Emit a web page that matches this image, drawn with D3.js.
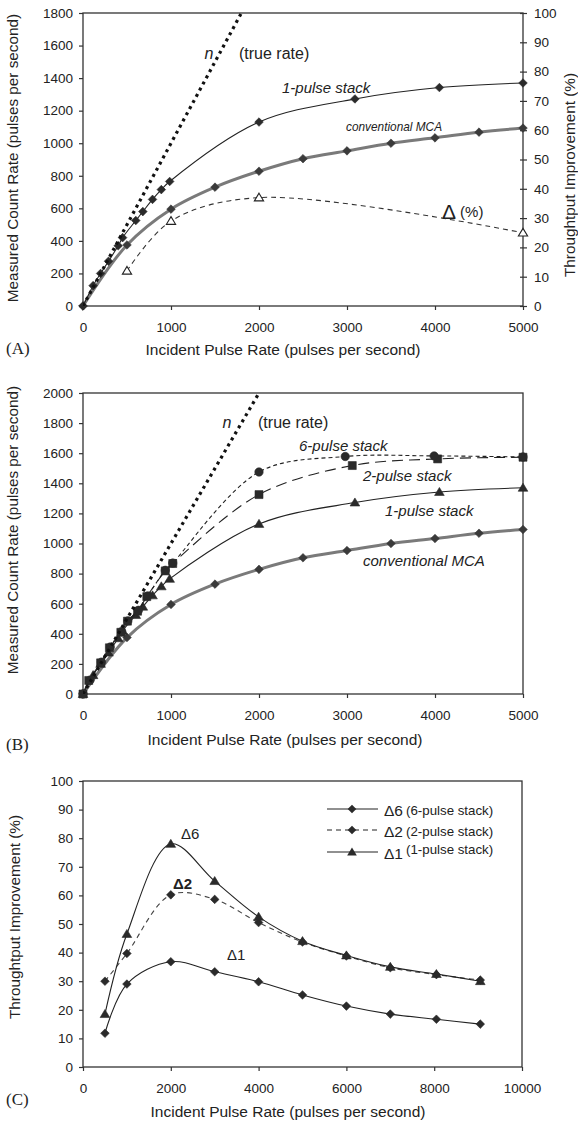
<!DOCTYPE html>
<html>
<head>
<meta charset="utf-8">
<script src="https://cdn.jsdelivr.net/npm/d3@7"></script>
<style>
  body { margin: 0; background: #fff; }
  svg text { fill: #222; }
</style>
</head>
<body>
<svg id="fig" width="578" height="1123"></svg>
<script>
// ---- data ----
// panel A & B share the x range 0..5000 pulses/s
const xTicksAB = [0, 1000, 2000, 3000, 4000, 5000];
const yTicksA = [0, 200, 400, 600, 800, 1000, 1200, 1400, 1600, 1800];
const yTicksAright = [0, 10, 20, 30, 40, 50, 60, 70, 80, 90, 100];
const yTicksB = [0, 200, 400, 600, 800, 1000, 1200, 1400, 1600, 1800, 2000];
const xTicksC = [0, 2000, 4000, 6000, 8000, 10000];
const yTicksC = [0, 10, 20, 30, 40, 50, 60, 70, 80, 90, 100];

const trueRateA = [[0, 0], [1800, 1800]];
const trueRateB = [[0, 0], [2000, 2000]];

const conventional = [
  [0, 0], [500, 375], [1000, 595], [1500, 730], [2000, 828], [2500, 905],
  [3000, 953], [3500, 1000], [4000, 1033], [4500, 1068], [5000, 1093]
];
const onePulse = [
  [0, 0], [115, 125], [200, 200], [290, 275], [400, 370], [450, 420],
  [600, 525], [680, 580], [790, 655], [890, 715], [985, 765],
  [2000, 1130], [3090, 1272], [4050, 1342], [5000, 1370]
];
const twoPulse = [
  [0, 0], [65, 90], [200, 207], [300, 307], [430, 410], [505, 484],
  [620, 550], [725, 647], [935, 818], [1020, 867],
  [2000, 1325], [3060, 1518], [4030, 1562], [5000, 1573]
];
const sixPulse = [
  [0, 0], [80, 92], [210, 212], [310, 312], [440, 415], [510, 486],
  [630, 556], [735, 652], [935, 822], [1020, 870],
  [2000, 1475], [2980, 1578], [3990, 1582], [5000, 1575]
];
// throughput improvement of 1-pulse stack, shown in panel A (right axis)
const deltaA = [[500, 12], [1000, 29], [2000, 37], [5000, 25]];

// panel C
const delta6 = [
  [500, 18.5], [1000, 46.5], [2000, 78], [3000, 65], [4000, 52.5], [5000, 44],
  [6000, 39], [7000, 35], [8050, 32.5], [9050, 30]
];
const delta2 = [
  [500, 30], [1000, 39.7], [2000, 60.2], [3000, 58.6], [4000, 50.5], [5000, 43.7],
  [6000, 38.8], [7000, 34.7], [8050, 32.3], [9050, 30.4]
];
const delta1 = [
  [500, 11.8], [1000, 29], [2000, 36.8], [3000, 33.3], [4000, 29.8], [5000, 25.2],
  [6000, 21.3], [7000, 18.5], [8050, 16.7], [9050, 15]
];

// ---- layout ----
const FONT = "'Liberation Sans', Arial, Helvetica, sans-serif";
const SERIF = "'Liberation Serif', 'Times New Roman', serif";
const X0 = 83, X1 = 523;
const INK = "#333";
const svg = d3.select("#fig");

function shape(kind, r) {
  if (kind === "diamond") return `M0,${-r}L${r},0L0,${r}L${-r},0Z`;
  if (kind === "triangle") return `M0,${-r}L${r * 1.05},${r * 0.75}L${-r * 1.05},${r * 0.75}Z`;
  if (kind === "square") return `M${-r},${-r}H${r}V${r}H${-r}Z`;
  return d3.arc()({innerRadius: 0, outerRadius: r, startAngle: 0, endAngle: 2 * Math.PI});
}

function frame(x, y, xTicks, yTicks, top, bottom, id) {
  const g = svg.append("g");
  g.append("clipPath").attr("id", id).append("rect")
    .attr("x", X0).attr("y", top).attr("width", x.range()[1] - X0).attr("height", bottom - top);

  const style = (a) => {
    a.attr("font-family", FONT).attr("font-size", 13.5);
    a.select(".domain").remove();
    a.selectAll("line").attr("stroke", INK).attr("stroke-width", 1.2);
    a.selectAll("text").attr("fill", "#222");
  };
  g.append("g").attr("transform", `translate(0,${bottom})`)
    .call(d3.axisBottom(x).tickValues(xTicks).tickSize(4).tickPadding(12).tickFormat(d3.format("d")))
    .call(style);
  g.append("g").attr("transform", `translate(${X0},0)`)
    .call(d3.axisLeft(y).tickValues(yTicks).tickSize(4).tickPadding(6).tickFormat(d3.format("d")))
    .call(style);
  g.append("rect")
    .attr("x", X0).attr("y", top).attr("width", x.range()[1] - X0).attr("height", bottom - top)
    .attr("fill", "none").attr("stroke", INK).attr("stroke-width", 1.3);
  return g;
}

function series(g, data, x, y, o) {
  const line = d3.line().x(d => x(d[0])).y(d => y(d[1]))
    .curve(o.straight ? d3.curveLinear : d3.curveCatmullRom.alpha(0.5));
  g.append("path").datum(data)
    .attr("clip-path", `url(#${o.clip})`)
    .attr("d", line).attr("fill", "none")
    .attr("stroke", o.stroke || "#111").attr("stroke-width", o.width || 1.1)
    .attr("stroke-dasharray", o.dash || null);
  if (!o.marker) return;
  g.append("g").selectAll("path").data(o.markerData || data).join("path")
    .attr("transform", d => `translate(${x(d[0])},${y(d[1])})`)
    .attr("d", shape(o.marker, o.size || 4.3))
    .attr("fill", o.fill || "#222")
    .attr("stroke", o.markerStroke || o.fill || "#222")
    .attr("stroke-width", o.markerStroke ? 1.1 : 0.6);
}

function label(g, text, px, py, o = {}) {
  const t = g.append("text").attr("x", px).attr("y", py)
    .attr("font-family", o.family || FONT).attr("font-size", o.size || 15)
    .attr("font-style", o.italic ? "italic" : null)
    .attr("font-weight", o.bold ? "bold" : null)
    .attr("text-anchor", o.anchor || "start")
    .attr("dominant-baseline", "central")
    .text(text);
  if (o.len) t.attr("textLength", o.len).attr("lengthAdjust", "spacingAndGlyphs");
  return t;
}

function xtitle(px, py) {
  svg.append("text").attr("x", px).attr("y", py).attr("dominant-baseline", "central")
    .attr("text-anchor", "middle").attr("font-family", FONT).attr("font-size", 15.5)
    .text("Incident Pulse Rate (pulses per second)");
}

function vtitle(text, px, py, size) {
  svg.append("text").attr("transform", `translate(${px},${py}) rotate(-90)`)
    .attr("font-family", FONT).attr("font-size", size || 15.3)
    .attr("text-anchor", "middle").text(text);
}

// ---- panel A ----
{
  const top = 13, bottom = 306;
  const x = d3.scaleLinear().domain([0, 5000]).range([X0, X1]);
  const y = d3.scaleLinear().domain([0, 1800]).range([bottom, top]);
  const y2 = d3.scaleLinear().domain([0, 100]).range([bottom, top]);
  const g = frame(x, y, xTicksAB, yTicksA, top, bottom, "clipA");

  const ar = g.append("g").attr("transform", `translate(${X1},0)`)
    .call(d3.axisRight(y2).tickValues(yTicksAright).tickSize(4).tickPadding(7))
    .attr("font-family", FONT).attr("font-size", 13.5);
  ar.select(".domain").remove();
  ar.selectAll("line").attr("x1", -3).attr("stroke", INK).attr("stroke-width", 1.2);

  series(g, conventional, x, y, {clip: "clipA", stroke: "#7a7a7a", width: 3, marker: "diamond", fill: "#3a3a3a"});
  series(g, onePulse, x, y, {clip: "clipA", stroke: "#222", width: 1.1, marker: "diamond", fill: "#2a2a2a"});
  series(g, trueRateA, x, y, {clip: "clipA", straight: true, stroke: "#111", width: 3.2, dash: "3,4"});
  series(g, deltaA, x, y2, {clip: "clipA", stroke: "#333", width: 1.1, dash: "5,4", marker: "triangle", fill: "#fff", markerStroke: "#222", size: 4.4});

  label(g, "n", x(1432), y(1554), {italic: true, anchor: "middle", size: 16});
  label(g, "(true rate)", x(1773), y(1554), {size: 16});
  label(g, "1-pulse stack", x(2261), y(1345), {italic: true});
  label(g, "conventional MCA", x(2989), y(1100), {italic: true, size: 13.5, len: 96});
  const dl = label(g, "", x(4080), y(584), {size: 14});
  dl.append("tspan").attr("font-size", 21).text("Δ");
  dl.append("tspan").attr("font-size", 15).attr("dx", 4).text("(%)");

  xtitle(283, 349);
  label(svg, "(A)", 6, 348, {family: SERIF, size: 17});
  vtitle("Measured Count Rate (pulses per second)", 18, 158);
  vtitle("Throughtput Improvement (%)", 575, 175);
}

// ---- panel B ----
{
  const top = 393, bottom = 694;
  const x = d3.scaleLinear().domain([0, 5000]).range([X0, X1]);
  const y = d3.scaleLinear().domain([0, 2000]).range([bottom, top]);
  const g = frame(x, y, xTicksAB, yTicksB, top, bottom, "clipB");

  series(g, conventional, x, y, {clip: "clipB", stroke: "#7a7a7a", width: 3, marker: "diamond", fill: "#3a3a3a"});
  series(g, onePulse, x, y, {clip: "clipB", stroke: "#222", width: 1.1, marker: "triangle", fill: "#2a2a2a", size: 4.6});
  series(g, twoPulse, x, y, {clip: "clipB", stroke: "#222", width: 1.1, dash: "11,6", marker: "square", fill: "#2a2a2a", size: 4});
  series(g, sixPulse, x, y, {clip: "clipB", stroke: "#222", width: 1.1, dash: "4,3", marker: "circle", fill: "#2a2a2a", size: 4.2});
  series(g, trueRateB, x, y, {clip: "clipB", straight: true, stroke: "#111", width: 3.2, dash: "3,4"});

  label(g, "n", x(1636), y(1801), {italic: true, anchor: "middle", size: 16});
  label(g, "(true rate)", x(1989), y(1801), {size: 16});
  label(g, "6-pulse stack", x(2455), y(1648), {italic: true});
  label(g, "2-pulse stack", x(3182), y(1449), {italic: true});
  label(g, "1-pulse stack", x(3432), y(1216), {italic: true});
  label(g, "conventional MCA", x(3182), y(890), {italic: true});

  xtitle(285, 739);
  label(svg, "(B)", 6, 744, {family: SERIF, size: 17});
  vtitle("Measured Count Rate (pulses per second)", 18, 530);
}

// ---- panel C ----
{
  const top = 781, bottom = 1067;
  const x = d3.scaleLinear().domain([0, 10000]).range([X0, 522]);
  const y = d3.scaleLinear().domain([0, 100]).range([bottom, top]);
  const g = frame(x, y, xTicksC, yTicksC, top, bottom, "clipC");

  series(g, delta1, x, y, {clip: "clipC", stroke: "#222", width: 1.1, marker: "diamond", fill: "#2a2a2a"});
  series(g, delta2, x, y, {clip: "clipC", stroke: "#444", width: 1.1, dash: "5,4", marker: "diamond", fill: "#2a2a2a"});
  series(g, delta6, x, y, {clip: "clipC", stroke: "#222", width: 1.1, marker: "triangle", fill: "#2a2a2a", size: 4.6});

  label(g, "Δ6", x(2232), y(81.8), {size: 15});
  label(g, "Δ2", x(2050), y(64), {size: 15, bold: true});
  label(g, "Δ1", x(3280), y(39.2), {size: 15});

  // legend
  const legendRows = [
    {key: "Δ6", text: "(6-pulse stack)", marker: "diamond", dash: null, py: 809, raise: 0},
    {key: "Δ2", text: "(2-pulse stack)", marker: "diamond", dash: "5,4", py: 830, raise: 0},
    {key: "Δ1", text: "(1-pulse stack)", marker: "triangle", dash: null, py: 852, raise: -4}
  ];
  const lg = g.append("g");
  for (const r of legendRows) {
    lg.append("line").attr("x1", 327).attr("x2", 378).attr("y1", r.py).attr("y2", r.py)
      .attr("stroke", "#222").attr("stroke-width", 1.1).attr("stroke-dasharray", r.dash);
    lg.append("path").attr("transform", `translate(352,${r.py})`)
      .attr("d", shape(r.marker, r.marker === "triangle" ? 4.6 : 4.3)).attr("fill", "#2a2a2a");
    const t = label(lg, "", 384, r.py + 1, {size: 15.5});
    t.append("tspan").text(r.key);
    t.append("tspan").attr("font-size", 13.3).attr("dx", 3).attr("dy", r.raise).text(r.text);
  }

  xtitle(288, 1111);
  label(svg, "(C)", 6, 1099, {family: SERIF, size: 17});
  vtitle("Throughtput Improvement (%)", 20, 917);
}
</script>
</body>
</html>
